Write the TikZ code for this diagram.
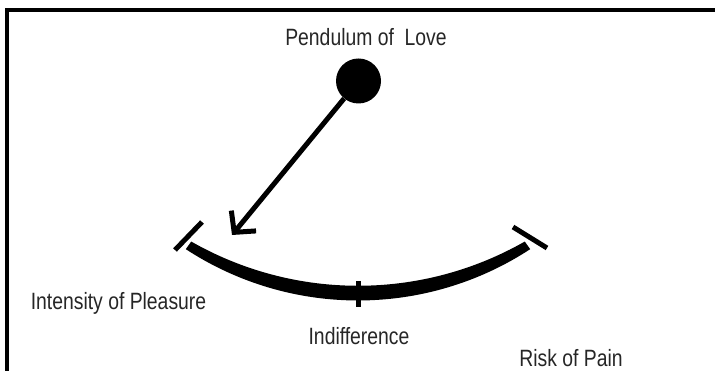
\documentclass[tikz,border=0pt]{standalone}
\usepackage{fontspec}
\setmainfont{Liberation Sans}[FakeStretch=0.82]
\usepackage{xcolor}
\usepackage{tikz}
\usetikzlibrary{arrows.meta,calc}
\definecolor{figureline}{RGB}{0,0,0}
\definecolor{figuretext}{RGB}{38,38,38}

\begin{document}
\begin{tikzpicture}[x=1pt, y=1pt, font=\fontsize{23.6}{28}\selectfont]
    \useasboundingbox (0,0) rectangle (715,371);
    % frame, open to the right and at the bottom
    \draw[figureline, line width=4.5pt] (7,0) -- (7,361) -- (715,361);
    \node[anchor=base, text=figuretext] (title) at (366,325) {Pendulum of\ \ Love};
    \node[circle, fill=figureline, minimum size=45pt, inner sep=0pt] (ball) at (358.5,290) {};
    \coordinate (tip) at (232,136);
    \draw[figureline, line width=5pt, -{Straight Barb[length=15pt,width=32pt,line width=5pt]}] (ball) -- (tip);
    % swing arc, heavier at the bottom
    \fill[figureline] ($(358,385)+(-123.2:314.5)$) arc[start angle=-123.2, end angle=-56.8, radius=314.5]
      -- ($(358,421.8)+(-60.3:336.6)$) arc[start angle=-60.3, end angle=-119.7, radius=336.6] -- cycle;
    \draw[figureline, line width=5pt] (175,121) -- (202,149);
    \draw[figureline, line width=5pt] (513,144) -- (547,123);
    \draw[figureline, line width=5pt] (358,90) -- (358,64);
    \node[anchor=base, text=figuretext] (pleasure) at (118.5,61) {Intensity of Pleasure};
    \node[anchor=base, text=figuretext] (indifference) at (359,26) {Indifference};
    \node[anchor=base, text=figuretext] (pain) at (571,4) {Risk of Pain};
  \end{tikzpicture}
\end{document}
